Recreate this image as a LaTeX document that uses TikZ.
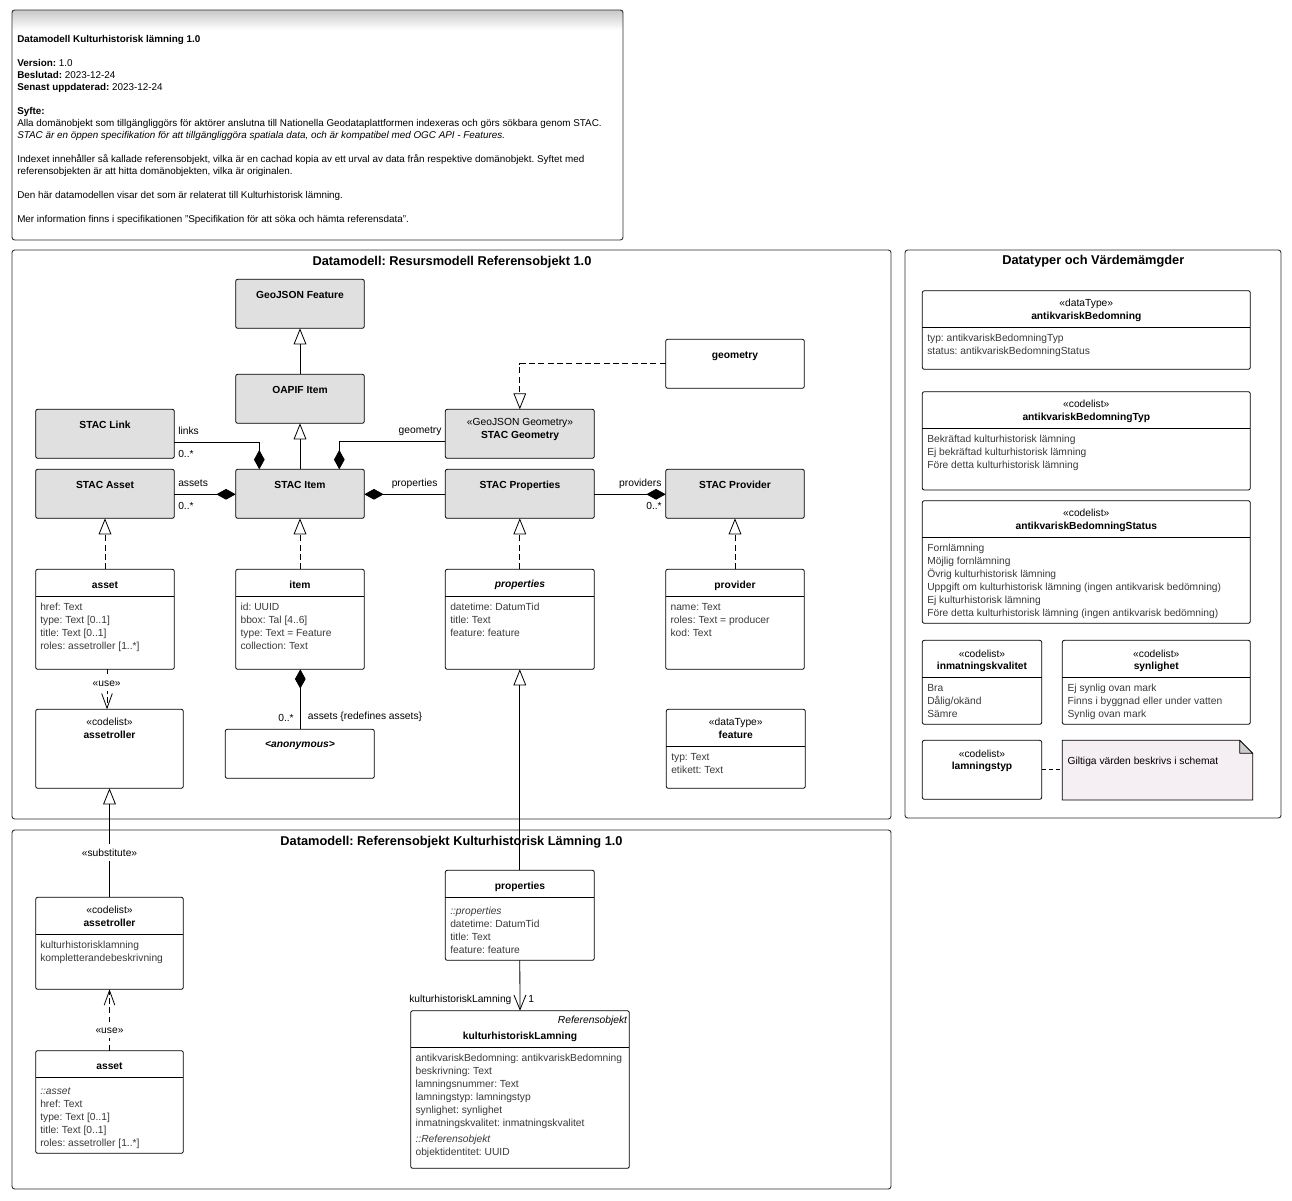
\documentclass[tikz,border=0pt]{standalone}
\usepackage{fontspec}
\setmainfont{Liberation Sans}
\usetikzlibrary{arrows.meta}
\frenchspacing
\definecolor{stacgray}{HTML}{E0E0E0}
\definecolor{attrcol}{HTML}{3A3A3A}
\definecolor{notefill}{HTML}{F5EEF3}
\definecolor{framecol}{HTML}{303030}
\definecolor{earcol}{HTML}{CCCCCC}
\tikzset{
 frame/.style={draw=framecol, line width=0.7pt, rounded corners=2pt, inner sep=0pt, outer sep=0pt},
 cls/.style={draw=black, line width=0.6pt, rounded corners=1.5pt, fill=white, inner sep=0pt, outer sep=0pt},
 stac/.style={cls, fill=stacgray},
 plain/.style={inner sep=0pt, outer sep=0pt},
 txt/.style={inner sep=0pt, font=\fontsize{7.7}{9}\selectfont, text height=1.55ex, text depth=0.45ex},
 nm/.style={txt, font=\fontsize{7.7}{9}\selectfont\bfseries},
 st/.style={txt},
 attr/.style={txt, text=attrcol, anchor=west},
 lbl/.style={txt, text=black},
 notetxt/.style={inner sep=0pt, anchor=west, font=\fontsize{7.4}{9}\selectfont, text height=1.55ex, text depth=0.45ex},
 pkgtitle/.style={inner sep=0pt, font=\fontsize{9.6}{11}\selectfont\bfseries},
 gen/.style={draw, line width=0.6pt, -{Triangle[open, fill=white, length=12pt, width=9.5pt]}},
 real/.style={gen, dash pattern=on 4.5pt off 2.5pt},
 comp/.style={draw, line width=0.6pt, -{Diamond[length=14.5pt, width=8pt]}},
 dep/.style={draw, line width=0.6pt, dash pattern=on 4.5pt off 2.5pt, -{Straight Barb[length=11pt, width=8pt]}},
 nav/.style={draw, line width=0.6pt, -{Straight Barb[length=11pt, width=9pt]}},
 sepline/.style={draw, line width=0.6pt},
 notelink/.style={draw, line width=0.6pt, dash pattern=on 3pt off 2.5pt},
}
\newcommand\ubox[6]{\node[#6, minimum width={(#4-#2)*0.75pt}, minimum height={(#5-#3)*0.75pt}] (#1) at ({(#2+#4)/2},{(#3+#5)/2}) {};}
\newcommand\usep[2]{\draw[sepline] (#1.west |- 0,#2) -- (#1.east |- 0,#2);}
\newcommand\attrs[4]{\foreach \attrline [count=\ai from 0] in {#4} {\node[attr] (#1-\ai) at (#2,{#3+13*\ai}) {\attrline};}}
\begin{document}
\begin{tikzpicture}[x=0.75pt,y=-0.75pt]
\useasboundingbox (0,0) rectangle (1292,1200);
\fill[white] (0,0) rectangle (1292,1200);

% ---------------- header note ----------------
\shade[top color=black!22, bottom color=white] (12,10) rectangle (623,30);
\ubox{hdr}{12}{10}{623}{240}{frame}
\node[notetxt] (h1) at (17,39) {\textbf{Datamodell Kulturhistorisk lämning 1.0}};
\node[notetxt] (h2) at (17,62.7) {\textbf{Version:} 1.0};
\node[notetxt] (h3) at (17,74.7) {\textbf{Beslutad:} 2023-12-24};
\node[notetxt] (h4) at (17,86.7) {\textbf{Senast uppdaterad:} 2023-12-24};
\node[notetxt] (h5) at (17,110.7) {\textbf{Syfte:}};
\node[notetxt] (h6) at (17,122.7) {Alla domänobjekt som tillgängliggörs för aktörer anslutna till Nationella Geodataplattformen indexeras och görs sökbara genom STAC.};
\node[notetxt] (h7) at (17,134.7) {\itshape STAC är en öppen specifikation för att tillgängliggöra spatiala data, och är kompatibel med OGC API - Features.};
\node[notetxt] (h8) at (17,158.7) {Indexet innehåller så kallade referensobjekt, vilka är en cachad kopia av ett urval av data från respektive domänobjekt. Syftet med};
\node[notetxt] (h9) at (17,170.7) {referensobjekten är att hitta domänobjekten, vilka är originalen.};
\node[notetxt] (h10) at (17,194.7) {Den här datamodellen visar det som är relaterat till Kulturhistorisk lämning.};
\node[notetxt] (h11) at (17,218.7) {Mer information finns i specifikationen "Specifikation för att söka och hämta referensdata".};

% ---------------- packages ----------------
\ubox{pkgA}{12}{250}{891}{819}{frame}
\node[pkgtitle] (pkgA-t) at (452,262) {Datamodell: Resursmodell Referensobjekt 1.0};
\ubox{pkgB}{12}{830}{891}{1189}{frame}
\node[pkgtitle] (pkgB-t) at (451.5,842.3) {Datamodell: Referensobjekt Kulturhistorisk Lämning 1.0};
\ubox{pkgC}{905}{250}{1281}{818}{frame}
\node[pkgtitle] (pkgC-t) at (1093.3,261.7) {Datatyper och Värdemämgder};

% ---------------- package A classes ----------------
\ubox{geofeat}{235.7}{279.3}{364.3}{328.3}{stac}
\node[nm] (geofeat-n) at (300,294.3) {GeoJSON Feature};
\ubox{oapif}{235.7}{374.3}{364.3}{423.3}{stac}
\node[nm] (oapif-n) at (300,389.3) {OAPIF Item};
\ubox{slink}{35.7}{409.3}{174.3}{458.3}{stac}
\node[nm] (slink-n) at (105,424.3) {STAC Link};
\ubox{sasset}{35.7}{469.3}{174.3}{518.3}{stac}
\node[nm] (sasset-n) at (105,484.3) {STAC Asset};
\ubox{sitem}{235.7}{469.3}{364.3}{518.3}{stac}
\node[nm] (sitem-n) at (300,484.3) {STAC Item};
\ubox{sgeom}{445.3}{409.3}{594.3}{458.3}{stac}
\node[st] (sgeom-s) at (520,422) {«GeoJSON Geometry»};
\node[nm] (sgeom-n) at (520,434.7) {STAC Geometry};
\ubox{sprops}{445.3}{469.3}{594.3}{518.3}{stac}
\node[nm] (sprops-n) at (520,484.7) {STAC Properties};
\ubox{sprov}{665.7}{469.3}{804.3}{518.3}{stac}
\node[nm] (sprov-n) at (735,484.7) {STAC Provider};
\ubox{geomC}{665.7}{339.3}{804.3}{388.3}{cls}
\node[nm] (geomC-n) at (735,355) {geometry};

\ubox{assetC}{35.7}{569.3}{174.3}{669.3}{cls}
\node[nm] (assetC-n) at (105,584.3) {asset};
\usep{assetC}{596.3}
\attrs{assetC-a}{40}{606.7}{href: Text, type: Text [0..1], title: Text [0..1], roles: assetroller [1..*]}

\ubox{itemC}{235.7}{569.3}{364.3}{669.3}{cls}
\node[nm] (itemC-n) at (300,584.3) {item};
\usep{itemC}{596.3}
\attrs{itemC-a}{240.3}{606.7}{id: UUID, bbox: Tal [4..6], type: Text = Feature, collection: Text}

\ubox{propsC}{445.3}{569.3}{594.3}{669.3}{cls}
\node[nm] (propsC-n) at (520,583.7) {\itshape properties};
\usep{propsC}{596.3}
\attrs{propsC-a}{450}{606.7}{datetime: DatumTid, title: Text, feature: feature}

\ubox{provC}{665.7}{569.3}{804.3}{669.3}{cls}
\node[nm] (provC-n) at (735,584.3) {provider};
\usep{provC}{596.3}
\attrs{provC-a}{670.3}{606.7}{name: Text, roles: Text = producer, kod: Text}

\ubox{aroll1}{35.7}{709.3}{183.3}{788.3}{cls}
\node[st] (aroll1-s) at (109.5,722) {«codelist»};
\node[nm] (aroll1-n) at (109.5,734.7) {assetroller};

\ubox{anon}{225.3}{729.3}{374.3}{778.3}{cls}
\node[nm] (anon-n) at (300,743.7) {\itshape <anonymous>};

\ubox{featC}{666.3}{709.3}{805.3}{788.3}{cls}
\node[st] (featC-s) at (735.8,722) {«dataType»};
\node[nm] (featC-n) at (735.8,734.7) {feature};
\usep{featC}{746.7}
\attrs{featC-a}{671}{756.7}{typ: Text, etikett: Text}

% ---------------- package A connectors ----------------
\draw[gen] (oapif.north) -- (geofeat.south);
\draw[gen] (sitem.north) -- (oapif.south);
\draw[comp] (slink.east |- 0,442.3) -| (sitem.north -| 259.3,0);
\draw[comp] (sgeom.west |- 0,441.7) -| (sitem.north -| 339.3,0);
\draw[comp] (sasset.east |- 0,494.3) -- (sitem.west |- 0,494.3);
\draw[comp] (sprops.west |- 0,494.3) -- (sitem.east |- 0,494.3);
\draw[comp] (sprops.east |- 0,494.3) -- (sprov.west |- 0,494.3);
\draw[real] (geomC.west) -| (sgeom.north);
\draw[real] (assetC.north) -- (sasset.south);
\draw[real] (itemC.north) -- (sitem.south);
\draw[real] (propsC.north) -- (sprops.south);
\draw[real] (provC.north) -- (sprov.south);
\draw[dep] (assetC.south -| 107,0) -- (aroll1.north -| 107,0);
\draw[comp] (anon.north -| 300.3,0) -- (itemC.south -| 300.3,0);

\node[lbl, anchor=west] (l-links) at (178,430.7) {links};
\node[lbl, anchor=west] (l-links-m) at (178,453.3) {0..*};
\node[lbl, anchor=east] (l-geom) at (441.7,430) {geometry};
\node[lbl, anchor=west] (l-assets) at (178,482.7) {assets};
\node[lbl, anchor=west] (l-assets-m) at (178,505.7) {0..*};
\node[lbl, anchor=east] (l-props) at (437.7,482.7) {properties};
\node[lbl, anchor=east] (l-prov) at (661.7,482.3) {providers};
\node[lbl, anchor=east] (l-prov-m) at (662,505.7) {0..*};
\node[lbl, fill=white, inner sep=1pt] (l-use1) at (106.7,682.3) {«use»};
\node[lbl, anchor=east] (l-anon-m) at (294,717.3) {0..*};
\node[lbl, anchor=west] (l-anon) at (307.7,716) {assets \{redefines assets\}};

% ---------------- package B classes ----------------
\ubox{aroll2}{35.7}{897.3}{183.3}{989.3}{cls}
\node[st] (aroll2-s) at (109.5,910) {«codelist»};
\node[nm] (aroll2-n) at (109.5,922.7) {assetroller};
\usep{aroll2}{934.3}
\attrs{aroll2-a}{40}{944.7}{kulturhistorisklamning, kompletterandebeskrivning}

\ubox{asset2}{35.7}{1050.7}{183.3}{1153.3}{cls}
\node[nm] (asset2-n) at (109.5,1065.7) {asset};
\usep{asset2}{1077.3}
\attrs{asset2-a}{40}{1090.7}{{\itshape ::asset}, href: Text, type: Text [0..1], title: Text [0..1], roles: assetroller [1..*]}

\ubox{props2}{445.3}{870.3}{594.3}{960.3}{cls}
\node[nm] (props2-n) at (520,885.7) {properties};
\usep{props2}{897.3}
\attrs{props2-a}{450}{910.7}{{\itshape ::properties}, datetime: DatumTid, title: Text, feature: feature}

\ubox{kl}{410.7}{1010.7}{629.3}{1168.3}{cls}
\node[st, anchor=east] (kl-s) at (627.3,1019.3) {\itshape Referensobjekt};
\node[nm] (kl-n) at (520,1035.7) {kulturhistoriskLamning};
\usep{kl}{1047.3}
\attrs{kl-a}{415.3}{1057.7}{antikvariskBedomning: antikvariskBedomning, beskrivning: Text, lamningsnummer: Text, lamningstyp: lamningstyp, synlighet: synlighet, inmatningskvalitet: inmatningskvalitet}
\node[attr] (kl-r) at (415.3,1138.7) {\itshape ::Referensobjekt};
\node[attr] (kl-o) at (415.3,1151.7) {objektidentitet: UUID};

% ---------------- cross-package connectors ----------------
\draw[gen] (props2.north) -- (propsC.south);
\draw[gen] (aroll2.north) -- (aroll1.south);
\node[lbl, fill=white, inner sep=1pt] (l-subst) at (109.5,852.7) {«substitute»};
\draw[dep] (asset2.north) -- (aroll2.south);
\node[lbl, fill=white, inner sep=1pt] (l-use2) at (109.5,1030) {«use»};
\draw[nav] (props2.south) -- (kl.north);
\node[lbl, anchor=east] (l-kl) at (511.7,998.7) {kulturhistoriskLamning};
\node[lbl, anchor=west] (l-kl-m) at (528,998.7) {1};

% ---------------- package C ----------------
\ubox{ab}{922.3}{290.7}{1250.3}{369.3}{cls}
\node[st] (ab-s) at (1086.3,303) {«dataType»};
\node[nm] (ab-n) at (1086.3,315.7) {antikvariskBedomning};
\usep{ab}{327.7}
\attrs{ab-a}{927}{338}{typ: antikvariskBedomningTyp, status: antikvariskBedomningStatus}

\ubox{abt}{922.3}{391.7}{1250.3}{490}{cls}
\node[st] (abt-s) at (1086.3,404) {«codelist»};
\node[nm] (abt-n) at (1086.3,416.7) {antikvariskBedomningTyp};
\usep{abt}{428.7}
\attrs{abt-a}{927}{438.7}{Bekräftad kulturhistorisk lämning, Ej bekräftad kulturhistorisk lämning, Före detta kulturhistorisk lämning}

\ubox{abs}{922.3}{500.7}{1250.3}{623.3}{cls}
\node[st] (abs-s) at (1086.3,513) {«codelist»};
\node[nm] (abs-n) at (1086.3,525.7) {antikvariskBedomningStatus};
\usep{abs}{537.3}
\attrs{abs-a}{927}{547.7}{Fornlämning, Möjlig fornlämning, Övrig kulturhistorisk lämning, Uppgift om kulturhistorisk lämning (ingen antikvarisk bedömning), Ej kulturhistorisk lämning, Före detta kulturhistorisk lämning (ingen antikvarisk bedömning)}

\ubox{ink}{922.3}{640.3}{1041.7}{724.3}{cls}
\node[st] (ink-s) at (982,653.3) {«codelist»};
\node[nm] (ink-n) at (982,665.7) {inmatningskvalitet};
\usep{ink}{677.3}
\attrs{ink-a}{927}{687.7}{Bra, Dålig/okänd, Sämre}

\ubox{syn}{1062.3}{640.3}{1250.3}{724.3}{cls}
\node[st] (syn-s) at (1156.3,653.3) {«codelist»};
\node[nm] (syn-n) at (1156.3,665.7) {synlighet};
\usep{syn}{677.3}
\attrs{syn-a}{1067.3}{687.7}{Ej synlig ovan mark, Finns i byggnad eller under vatten, Synlig ovan mark}

\ubox{lamt}{922.3}{740.3}{1041.7}{799.3}{cls}
\node[st] (lamt-s) at (982,753.3) {«codelist»};
\node[nm] (lamt-n) at (982,765.7) {lamningstyp};

\ubox{gnote}{1062.3}{740.3}{1252.7}{800}{plain}
\filldraw[fill=notefill, line width=0.6pt] (gnote.south west) -- (gnote.north west) -- ([xshift=-9.75pt]gnote.north east) -- ([yshift=-9.75pt]gnote.north east) -- (gnote.south east) -- cycle;
\filldraw[fill=earcol, line width=0.6pt, line join=round] ([xshift=-9.75pt]gnote.north east) -- ([xshift=-9.75pt,yshift=-9.75pt]gnote.north east) -- ([yshift=-9.75pt]gnote.north east) -- cycle;
\node[lbl, anchor=west] (gnote-t) at (1067.3,760.3) {Giltiga värden beskrivs i schemat};
\draw[notelink] (lamt.east) -- (gnote.west |- lamt.east);
\end{tikzpicture}
\end{document}
